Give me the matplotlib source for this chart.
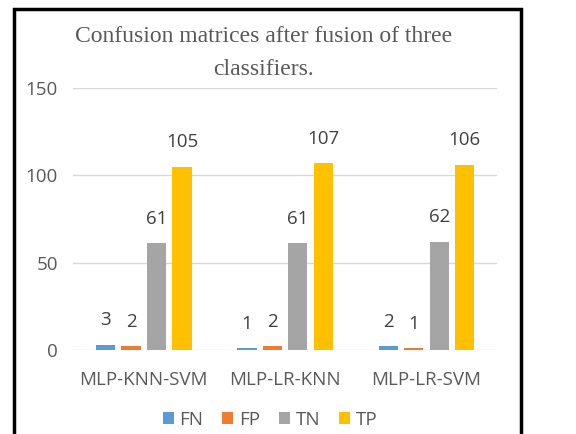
import matplotlib.pyplot as plt
import numpy as np
from matplotlib.patches import Rectangle

categories = ['MLP-KNN-SVM', 'MLP-LR-KNN', 'MLP-LR-SVM']
series = ['FN', 'FP', 'TN', 'TP']
fn = [3, 1, 2]
fp = [2, 2, 1]
tn = [61, 61, 62]
tp = [105, 107, 106]
colors = ['#5B9BD5', '#ED7D31', '#A5A5A5', '#FFC000']

plt.rcParams['font.family'] = ['Open Sans', 'DejaVu Sans']

fig = plt.figure(figsize=(5.76, 4.34), dpi=100)
ax = fig.add_axes([0.127, 0.194, 0.736, 0.603])

x = np.arange(len(categories))
width = 0.136
step = 0.18
for i, (name, vals) in enumerate(zip(series, [fn, fp, tn, tp])):
    pos = x + (i - 1.5) * step
    bars = ax.bar(pos, vals, width, color=colors[i], label=name, zorder=3)
    for b, v in zip(bars, vals):
        ax.text(b.get_x() + b.get_width() / 2, v + 14, str(v), ha='center', va='center',
                fontsize=13.5, color='#404040')

ax.set_xlim(-0.5, 2.5)
ax.set_ylim(0, 150)
ax.set_yticks([0, 50, 100, 150])
ax.set_xticks(x)
ax.set_xticklabels(categories)
ax.grid(axis='y', color='#d9d9d9', linewidth=1, zorder=0)
for s in ax.spines.values():
    s.set_visible(False)
ax.tick_params(length=0, labelsize=13.5, labelcolor='#595959')
ax.tick_params(axis='x', pad=15)
ax.tick_params(axis='y', pad=11)

# title, two lines as in the original
fig.text(0.457, 0.915, 'Confusion matrices after fusion of three', ha='center', va='center',
         family='Liberation Serif', fontsize=17, color='#595959')
fig.text(0.457, 0.839, 'classifiers.', ha='center', va='center',
         family='Liberation Serif', fontsize=17, color='#595959')

fig.legend(*ax.get_legend_handles_labels(), loc='center', bbox_to_anchor=(270 / 576, 1 - 420 / 434),
           bbox_transform=fig.transFigure, ncol=4, frameon=False, fontsize=13.5,
           handlelength=0.6, handleheight=0.6, handletextpad=0.3, columnspacing=1.0,
           labelcolor='#595959')

# black frame around the chart
fig.patches.append(Rectangle((0.024, -0.05), 0.881, 1.03, transform=fig.transFigure,
                             fill=False, edgecolor='black', linewidth=2.5, clip_on=False))

fig.savefig('out.png', dpi=100)
